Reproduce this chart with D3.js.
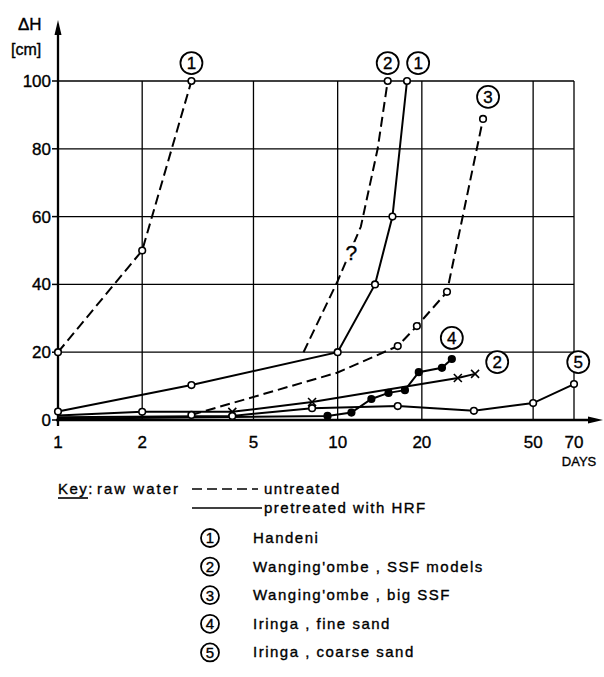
<!DOCTYPE html>
<html>
<head>
<meta charset="utf-8">
<script src="https://cdn.jsdelivr.net/npm/d3@7"></script>
<style>
  body { margin: 0; background: #fff; }
  text { font-family: "Liberation Sans", Arial, sans-serif; fill: #000; stroke: #000; stroke-width: 0.35px; }
  .legend text { font-family: "Liberation Sans Narrow", "Liberation Sans", sans-serif; letter-spacing: 1.5px; }
</style>
</head>
<body>
<div id="chart"></div>
<script>
(function() {

  // Days (log axis) and head loss values.
  const xTicks = [1, 2, 5, 10, 20, 50, 70];
  const yTicks = [0, 20, 40, 60, 80, 100];

  // 1 Handeni
  const handeniUntreated = [[1, 20], [2, 50], [3, 100]];
  const handeniUntreatedMarks = ['o', 'o', 'o'];
  const handeniPretreated = [[1, 2.5], [3, 10.3], [10, 20], [13.6, 40], [15.7, 60], [17.7, 100]];
  const handeniPretreatedMarks = ['o', 'o', 'o', 'o', 'o', 'o'];

  // 2 Wanging'ombe, SSF models
  const ssfUntreated = [[7.55, 20], [10, 41], [12.1, 57], [13.9, 80], [15.1, 100]];
  const ssfUntreatedMarks = ['', '', '', '', 'o'];
  const ssfPretreated = [[1, 1.3], [2, 2.4], [4.2, 2.4], [8.1, 5.3], [26.9, 12.4], [31, 13.6]];
  const ssfPretreatedMarks = ['', 'o', 'x', 'x', 'x', 'x'];

  // 3 Wanging'ombe, big SSF
  const bigSsfUntreated = [[3, 1.5], [10, 14], [16.4, 21.8], [19.2, 27.7], [24.6, 37.8], [33.1, 88.8]];
  const bigSsfUntreatedMarks = ['o', '', 'o', 'o', 'o', 'o'];

  // 4 Iringa, fine sand
  const fineSand = [[1, 0.4], [9.2, 1.2], [11.2, 2.2], [13.2, 6.2], [15.2, 8], [17.4, 8.8], [19.5, 14.1], [23.6, 15.4], [25.6, 18]];
  const fineSandMarks = ['', '*', '*', '*', '*', '*', '*', '*', '*'];

  // 5 Iringa, coarse sand
  const coarseSand = [[1, 0.8], [4.2, 1.2], [8.1, 3.5], [16.4, 4.1], [30.7, 2.7], [50, 5], [70, 10.6]];
  const coarseSandMarks = ['', 'o', 'o', 'o', 'o', 'o', 'o'];

  // Circled curve numbers: [label, day, value]
  const curveLabels = [['1', 3, 105.3], ['2', 15.1, 105.3], ['1', 19.4, 105.3], ['3', 34.5, 95.3],
                       ['4', 25.6, 24.2], ['2', 37.2, 17.1], ['5', 72.5, 17.1]];
  const questionMark = [11.2, 49.5];

  const legendNames = ['Handeni', "Wanging'ombe , SSF models", "Wanging'ombe , big SSF",
                       'Iringa  , fine sand', 'Iringa  , coarse sand'];

  const width = 604;
  const height = 677;

  const vis = d3.select('#chart')
    .append('svg')
    .attr('width', width)
    .attr('height', height);

  const x = d3.scaleLog().domain([1, 70]).range([58, 574]);
  const y = d3.scaleLinear().domain([0, 100]).range([420, 81]);

  // Grid.
  const grid = vis.append('g').classed('grid', true)
    .style('stroke', '#000').style('stroke-width', 1.3);
  grid.selectAll('line.v')
    .data(xTicks.slice(1))
    .enter().append('line')
    .attr('x1', d => x(d)).attr('x2', d => x(d))
    .attr('y1', y(0)).attr('y2', y(100));
  grid.selectAll('line.h')
    .data(yTicks.slice(1))
    .enter().append('line')
    .attr('x1', x(1)).attr('x2', x(70))
    .attr('y1', d => y(d)).attr('y2', d => y(d));

  // Axes with arrows.
  const axes = vis.append('g').style('stroke', '#000').style('stroke-width', 2.3);
  axes.append('line').attr('x1', x(1)).attr('x2', x(1)).attr('y1', y(0) + 6).attr('y2', 30);
  axes.append('line').attr('x1', x(1) - 2).attr('x2', 592).attr('y1', y(0)).attr('y2', y(0));
  vis.append('path').attr('d', `M${x(1)},20 L${x(1) - 3.5},35 L${x(1) + 3.5},35 Z`).style('fill', '#000');
  vis.append('path').attr('d', `M603,${y(0)} L588,${y(0) - 3.5} L588,${y(0) + 3.5} Z`).style('fill', '#000');

  // Y ticks and labels.
  const yAxis = vis.append('g');
  yAxis.selectAll('line')
    .data(yTicks)
    .enter().append('line')
    .attr('x1', x(1) - 6).attr('x2', x(1))
    .attr('y1', d => y(d)).attr('y2', d => y(d))
    .style('stroke', '#000').style('stroke-width', 1.5);
  yAxis.selectAll('text')
    .data(yTicks)
    .enter().append('text')
    .attr('x', x(1) - 7)
    .attr('y', d => y(d) + 6)
    .style('text-anchor', 'end')
    .style('font-size', '17px')
    .text(d => d);

  // X labels.
  vis.append('g').selectAll('text')
    .data(xTicks)
    .enter().append('text')
    .attr('x', d => x(d))
    .attr('y', 448)
    .style('text-anchor', 'middle')
    .style('font-size', '17px')
    .text(d => d);
  vis.append('text').attr('x', 579).attr('y', 466).style('text-anchor', 'middle')
    .style('font-size', '13px').text('DAYS');

  vis.append('text').attr('x', 18).attr('y', 30).style('font-size', '17px').text('ΔH');
  vis.append('text').attr('x', 11).attr('y', 55).style('font-size', '16px').text('[cm]');

  // Curves.
  const line = d3.line().x(d => x(d[0])).y(d => y(d[1]));
  const series = [
    { data: handeniUntreated, marks: handeniUntreatedMarks, dashed: true },
    { data: handeniPretreated, marks: handeniPretreatedMarks, dashed: false },
    { data: ssfUntreated, marks: ssfUntreatedMarks, dashed: true },
    { data: ssfPretreated, marks: ssfPretreatedMarks, dashed: false },
    { data: bigSsfUntreated, marks: bigSsfUntreatedMarks, dashed: true },
    { data: fineSand, marks: fineSandMarks, dashed: false },
    { data: coarseSand, marks: coarseSandMarks, dashed: false }
  ];

  const curves = vis.append('g').classed('curves', true);
  series.forEach(s => {
    curves.append('path')
      .attr('d', line(s.data))
      .style('fill', 'none')
      .style('stroke', '#000')
      .style('stroke-width', 2)
      .style('stroke-dasharray', s.dashed ? '10,5' : null);
  });

  // Markers on top.
  const markers = vis.append('g').classed('markers', true);
  series.forEach(s => {
    s.data.forEach((d, i) => {
      const m = s.marks[i];
      const px = x(d[0]);
      const py = y(d[1]);
      if (m === 'o' || m === '*') {
        markers.append('circle')
          .attr('cx', px).attr('cy', py).attr('r', 3.3)
          .style('fill', m === '*' ? '#000' : '#fff')
          .style('stroke', '#000').style('stroke-width', 1.6);
      } else if (m === 'x') {
        markers.append('path')
          .attr('d', `M${px - 4},${py - 4}L${px + 4},${py + 4}M${px - 4},${py + 4}L${px + 4},${py - 4}`)
          .style('stroke', '#000').style('stroke-width', 1.6);
      }
    });
  });

  // Circled numbers.
  const circled = (g, cx, cy, r, label, size) => {
    g.append('circle').attr('cx', cx).attr('cy', cy).attr('r', r)
      .style('fill', '#fff').style('stroke', '#000').style('stroke-width', 1.8);
    g.append('text').attr('x', cx).attr('y', cy + size * 0.36)
      .style('text-anchor', 'middle').style('font-size', size + 'px')
      .style('letter-spacing', '0px').text(label);
  };
  const labels = vis.append('g');
  curveLabels.forEach(d => circled(labels, x(d[1]), y(d[2]), 11, d[0], 17));

  // Question mark sits in a gap of the dashed curve.
  vis.append('rect')
    .attr('x', x(questionMark[0]) - 6).attr('y', y(questionMark[1]) - 10)
    .attr('width', 12).attr('height', 20)
    .style('fill', '#fff');
  vis.append('text').attr('x', x(questionMark[0])).attr('y', y(questionMark[1]) + 8)
    .style('text-anchor', 'middle').style('font-size', '21px').text('?');

  // Key.
  const legend = vis.append('g').classed('legend', true);
  legend.append('text').attr('x', 58).attr('y', 494).style('font-size', '15px').text('Key:');
  legend.append('line').attr('x1', 58).attr('x2', 88).attr('y1', 498).attr('y2', 498)
    .style('stroke', '#000').style('stroke-width', 1.6);
  legend.append('text').attr('x', 97).attr('y', 494).style('font-size', '15px')
    .style('letter-spacing', '2px').text('raw  water');
  legend.append('line').attr('x1', 192).attr('x2', 258).attr('y1', 489).attr('y2', 489)
    .style('stroke', '#000').style('stroke-width', 1.6).style('stroke-dasharray', '10,5');
  legend.append('text').attr('x', 264).attr('y', 494).style('font-size', '15px').text('untreated');
  legend.append('line').attr('x1', 192).attr('x2', 262).attr('y1', 508).attr('y2', 508)
    .style('stroke', '#000').style('stroke-width', 1.6);
  legend.append('text').attr('x', 264).attr('y', 513).style('font-size', '15px').text('pretreated  with  HRF');

  legendNames.forEach((name, i) => {
    const cy = 538 + i * 28.6;
    circled(legend, 210, cy, 9, String(i + 1), 15);
    legend.append('text').attr('x', 253).attr('y', cy + 5).style('font-size', '15px').text(name);
  });

})();
</script>
</body>
</html>
